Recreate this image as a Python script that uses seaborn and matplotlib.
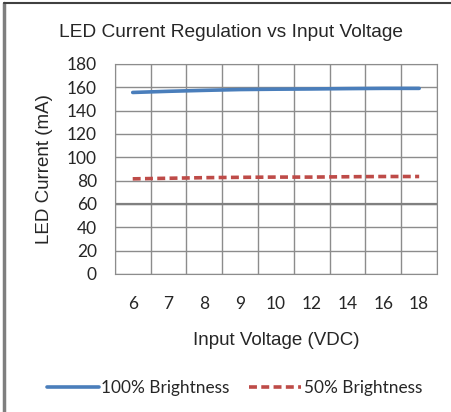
import numpy as np
import pandas as pd
import matplotlib.pyplot as plt
import seaborn as sns
from matplotlib.lines import Line2D

# data
voltages = ["6", "7", "8", "9", "10", "12", "14", "16", "18"]
full_brightness = [155.5, 156.5, 157.3, 158.0, 158.3, 158.5, 158.8, 159.0, 159.0]
half_brightness = [81.5, 82.0, 82.5, 82.8, 83.0, 83.0, 83.3, 83.5, 83.5]

df = pd.DataFrame({
    "pos": list(range(len(voltages))) * 2,
    "current": full_brightness + half_brightness,
    "series": ["100% Brightness"] * len(voltages) + ["50% Brightness"] * len(voltages),
})

sns.set_style("white")
plt.rcParams["font.family"] = ["Liberation Sans", "DejaVu Sans"]

fig = plt.figure(figsize=(4.52, 4.12), dpi=100)
ax = fig.add_axes([0.254, 0.335, 0.713, 0.51])

sns.lineplot(data=df, x="pos", y="current", hue="series", style="series",
             palette=["#4a7ebb", "#be4b48"], dashes=[(None, None), (2.2, 1.2)],
             linewidth=2.6, ax=ax, legend=False)

# gridlines between categories like Excel
ax.set_xlim(-0.5, len(voltages) - 0.5)
ax.set_ylim(0, 180)
ax.set_yticks(np.arange(0, 181, 20))
ax.set_xticks(range(len(voltages)))
ax.set_xticklabels(voltages)
ax.set_xticks(np.arange(-0.5, len(voltages), 1), minor=True)
ax.tick_params(which="both", length=0)
ax.tick_params(axis="both", labelsize=12.5, labelfontfamily="Lato")
ax.tick_params(axis="x", pad=16)
ax.tick_params(axis="y", pad=13)
ax.grid(True, axis="y", color="#8c8c8c", linewidth=1)
ax.grid(True, axis="x", which="minor", color="#8c8c8c", linewidth=1)
ax.axhline(60, color="#808080", linewidth=1.6, zorder=1)
for s in ax.spines.values():
    s.set_color("#8c8c8c")
ax.set_axisbelow(True)

ax.set_xlabel("Input Voltage (VDC)", fontsize=13.5, labelpad=14)
ax.set_ylabel("LED Current (mA)", fontsize=13.5, labelpad=10)
fig.text(0.512, 0.922, "LED Current Regulation vs Input Voltage", ha="center", va="center", fontsize=13.8)

handles = [Line2D([], [], color="#4a7ebb", linewidth=2.6),
           Line2D([], [], color="#be4b48", linewidth=2.6, dashes=(2.2, 1.2))]
fig.legend(handles, ["100% Brightness", "50% Brightness"], loc="center",
           bbox_to_anchor=(0.519, 0.058), ncol=2, frameon=False, handlelength=3.0,
           handletextpad=0.15, columnspacing=1.15, prop={"family": "Lato", "size": 12.4})

# chart border (left and top edges visible)
fig.add_artist(Line2D([0.009, 0.009], [0, 0.993], transform=fig.transFigure, color="#7f7f7f", linewidth=2.5))
fig.add_artist(Line2D([0.009, 1.0], [0.993, 0.993], transform=fig.transFigure, color="#404040", linewidth=1.5))

fig.savefig("out.png", dpi=100)
